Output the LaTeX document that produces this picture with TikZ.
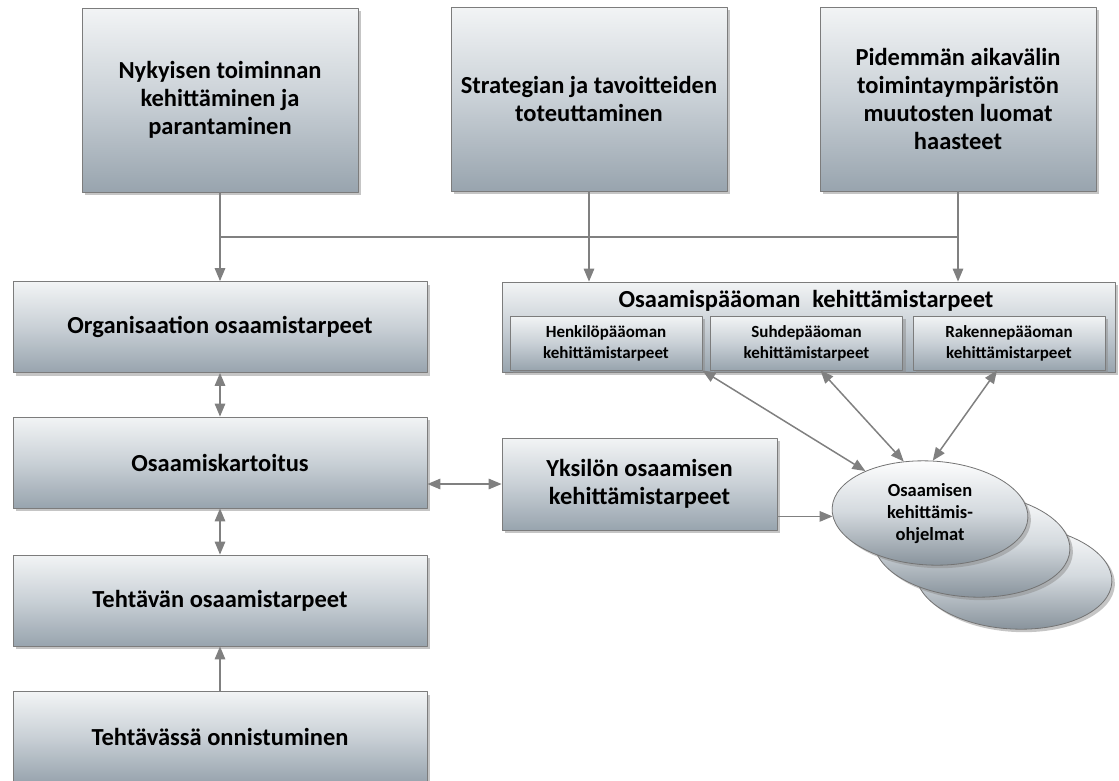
\documentclass[tikz,border=0pt]{standalone}
\usepackage{fontspec}
\setmainfont{Carlito}
\usetikzlibrary{arrows.meta,shapes.geometric,shadows,calc}
\definecolor{boxtop}{HTML}{F2F4F5}
\definecolor{boxmid}{HTML}{C9D0D6}
\definecolor{boxbot}{HTML}{98A4AE}
\definecolor{linegray}{HTML}{808080}
\definecolor{edgegray}{HTML}{7C7C7C}
\tikzset{
  box/.style={draw=edgegray,line width=0.8pt,top color=boxtop,bottom color=boxbot,middle color=boxmid,
    align=center,inner sep=2pt,drop shadow={shadow xshift=3pt,shadow yshift=-3pt,fill=black!45}},
  bigtxt/.style={font=\bfseries\fontsize{24.5}{28}\selectfont},
  smalltxt/.style={font=\bfseries\fontsize{17}{21}\selectfont},
  elltxt/.style={font=\bfseries\fontsize{18.5}{22}\selectfont},
  ellbox/.style={box,ellipse,inner sep=0pt,minimum width=196pt,minimum height=104pt,rotate=-3,
    draw=black!55,top color=white,bottom color=boxbot!90!black,middle color=boxmid!80!white},
  conn/.style={draw=linegray,line width=1.5pt}
}
\begin{document}
\begin{tikzpicture}[x=1pt,y=-1pt,line join=round,>={Triangle[length=13pt,width=10.5pt]}]
  \useasboundingbox (0,0) rectangle (1119,780);
  \def\tw{276} \def\th{184}
  \def\lw{414} \def\lh{91}
  \node[box,bigtxt,minimum width=\tw,minimum height=\th] (nyk) at (220,100) {Nykyisen toiminnan\\kehittäminen ja\\parantaminen};
  \node[box,bigtxt,minimum width=\tw,minimum height=\th] (str) at (589,99) {Strategian ja tavoitteiden\\toteuttaminen};
  \node[box,bigtxt,minimum width=\tw,minimum height=\th] (pid) at (958,99) {Pidemmän aikavälin\\toimintaympäristön\\muutosten luomat\\haasteet};
  \node[box,bigtxt,minimum width=\lw,minimum height=\lh] (org) at (220,327) {Organisaation osaamistarpeet};
  \node[box,bigtxt,minimum width=\lw,minimum height=\lh] (kart) at (220,462.5) {Osaamiskartoitus};
  \node[box,bigtxt,minimum width=\lw,minimum height=\lh] (teht) at (220,600.5) {Tehtävän osaamistarpeet};
  \node[box,bigtxt,minimum width=\lw,minimum height=\lh] (onn) at (220,737) {Tehtävässä onnistuminen};
  \node[box,minimum width=613,minimum height=90] (opo) at (808.5,327) {};
  \node[bigtxt,inner sep=0pt] (opottl) at (806,301) {Osaamispääoman\hspace{0.25em} kehittämistarpeet};
  \node[box,smalltxt,minimum width=192,minimum height=54] (hen) at (606,343) {Henkilöpääoman\\kehittämistarpeet};
  \node[box,smalltxt,minimum width=192,minimum height=54] (suh) at (806.5,343) {Suhdepääoman\\kehittämistarpeet};
  \node[box,smalltxt,minimum width=192,minimum height=54] (rak) at (1009,343) {Rakennepääoman\\kehittämistarpeet};
  \node[box,bigtxt,minimum width=275,minimum height=92] (yks) at (639.5,484) {Yksilön osaamisen\\kehittämistarpeet};
  \node[ellbox] (ell3) at (1014,577) {};
  \node[ellbox] (ell2) at (972,545) {};
  \node[ellbox] (ell1) at (930,513) {};
  \node[elltxt,align=center,inner sep=0pt] (ohj) at (930,514) {Osaamisen\\kehittämis-\\ohjelmat};
  \draw[conn] ($(nyk.south)!.5!(org.north)$) -| (pid.south);
  \draw[conn,->] (nyk.south) -- (org.north);
  \draw[conn,->] (str.south) -- (str.south |- opo.north);
  \draw[conn,->] (pid.south) -- (pid.south |- opo.north);
  \draw[conn,<->] (org) -- (kart);
  \draw[conn,<->] (kart) -- (teht);
  \draw[conn,->] (onn) -- (teht);
  \draw[conn,<->] (kart.east |- yks.west) -- (yks.west);
  \draw[conn,->] (yks.east |- ell1.185) -- (ell1.185);
  \draw[conn,<->] (hen.south east) -- (ell1.150);
  \draw[conn,<->] ([xshift=14pt]suh.south) -- (ell1.120);
  \draw[conn,<->] ([xshift=-12pt]rak.south) -- (ell1.90);
\end{tikzpicture}
\end{document}
